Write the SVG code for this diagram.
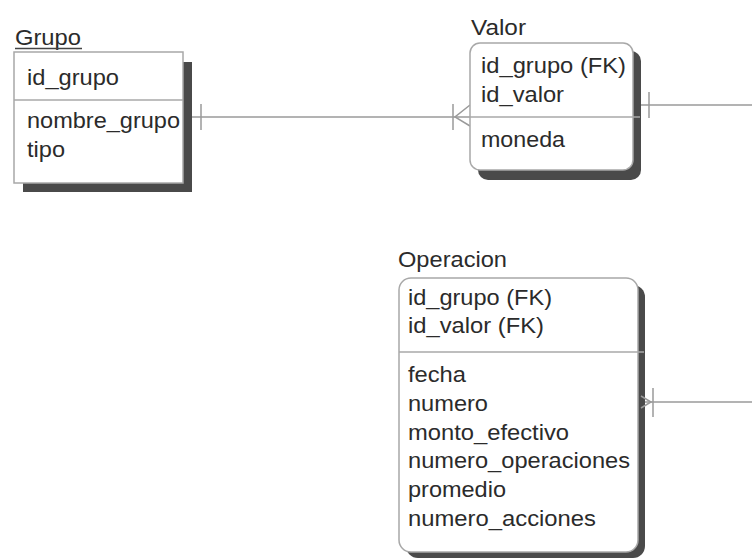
<svg xmlns="http://www.w3.org/2000/svg" width="752" height="559" viewBox="0 0 752 559">
<style>
  text { font-family: "Liberation Sans", Arial, sans-serif; font-size: 21.5px; fill: #2b2b2b; }
  .box { fill: #fff; stroke: #a8a8a8; stroke-width: 1.5; }
  .shadow { fill: #4a4a4a; }
  .sep { stroke: #a8a8a8; stroke-width: 1.5; fill: none; }
  .conn { stroke: #9a9a9a; stroke-width: 1.5; fill: none; }
</style>
<rect width="752" height="559" fill="#fff"/>

<g id="connectors">
  <!-- Grupo to Valor -->
  <line class="conn" x1="192" y1="117" x2="470" y2="117"/>
  <line class="conn" x1="201" y1="104" x2="201" y2="130"/>
  <line class="conn" x1="453" y1="104" x2="453" y2="130"/>
  <path class="conn" d="M470,105 L455,117 L470,126"/>
  <!-- Valor to right -->
  <line class="conn" x1="641" y1="105" x2="752" y2="105"/>
  <line class="conn" x1="649" y1="92" x2="649" y2="118"/>
  <!-- Operacion to right -->
  <line class="conn" x1="645" y1="402" x2="752" y2="402"/>
  <line class="conn" x1="653" y1="388" x2="653" y2="417"/>
</g>

<g id="grupo">
  <text x="15" y="45" textLength="66" lengthAdjust="spacingAndGlyphs">Grupo</text>
  <line x1="15" y1="48.5" x2="82" y2="48.5" stroke="#444" stroke-width="1.5"/>
  <rect class="shadow" x="23" y="62" width="169" height="130"/>
  <rect class="box" x="14" y="52" width="169" height="131"/>
  <line class="sep" x1="14" y1="100" x2="183" y2="100"/>
  <text x="27" y="85" textLength="92" lengthAdjust="spacingAndGlyphs">id_grupo</text>
  <text x="27" y="128" textLength="153" lengthAdjust="spacingAndGlyphs">nombre_grupo</text>
  <text x="27" y="157" textLength="38" lengthAdjust="spacingAndGlyphs">tipo</text>
</g>

<g id="valor">
  <text x="471" y="35" textLength="55" lengthAdjust="spacingAndGlyphs">Valor</text>
  <rect class="shadow" x="478" y="51" width="163" height="129" rx="10"/>
  <rect class="box" x="470" y="43" width="163" height="127" rx="10"/>
  <line class="sep" x1="470" y1="117" x2="640" y2="117"/>
  <text x="481" y="73" textLength="145" lengthAdjust="spacingAndGlyphs">id_grupo (FK)</text>
  <text x="481" y="102" textLength="83" lengthAdjust="spacingAndGlyphs">id_valor</text>
  <text x="481" y="147" textLength="84" lengthAdjust="spacingAndGlyphs">moneda</text>
</g>

<g id="operacion">
  <text x="398" y="267" textLength="109" lengthAdjust="spacingAndGlyphs">Operacion</text>
  <rect class="shadow" x="406" y="285" width="239" height="273" rx="12"/>
  <rect class="box" x="399" y="278" width="239" height="274" rx="12"/>
  <line class="sep" x1="399" y1="352" x2="644" y2="352"/>
  <path class="conn" d="M641,396 L651,402 L641,408" stroke="#bbb"/>
  <text x="408" y="305" textLength="144" lengthAdjust="spacingAndGlyphs">id_grupo (FK)</text>
  <text x="408" y="333" textLength="136" lengthAdjust="spacingAndGlyphs">id_valor (FK)</text>
  <text x="408" y="382" textLength="58" lengthAdjust="spacingAndGlyphs">fecha</text>
  <text x="408" y="411" textLength="80" lengthAdjust="spacingAndGlyphs">numero</text>
  <text x="408" y="440" textLength="161" lengthAdjust="spacingAndGlyphs">monto_efectivo</text>
  <text x="408" y="468" textLength="222" lengthAdjust="spacingAndGlyphs">numero_operaciones</text>
  <text x="408" y="497" textLength="98" lengthAdjust="spacingAndGlyphs">promedio</text>
  <text x="408" y="526" textLength="188" lengthAdjust="spacingAndGlyphs">numero_acciones</text>
</g>
</svg>
